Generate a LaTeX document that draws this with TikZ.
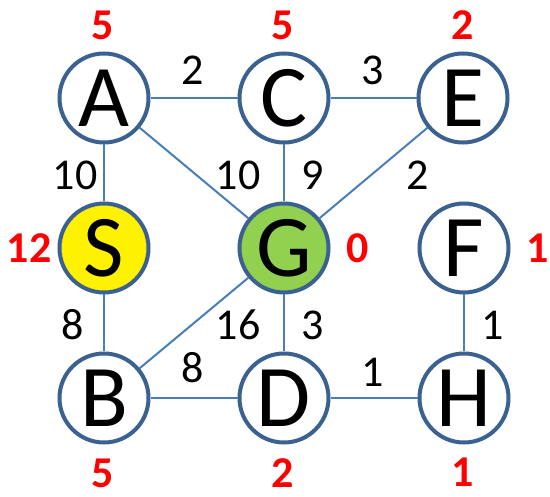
\documentclass[tikz,border=0pt]{standalone}
\usepackage{fontspec}
\setmainfont{Carlito}
\definecolor{ringblue}{HTML}{3B6190}
\definecolor{edgeblue}{HTML}{4A7EBB}
\definecolor{goalgreen}{HTML}{92D050}
\definecolor{hred}{HTML}{FF0000}
\tikzset{
  vert/.style={circle, draw=ringblue, line width=4pt, fill=white, minimum size=89pt, inner sep=0pt,
    font=\fontsize{88}{88}\selectfont},
  wlab/.style={inner sep=0pt, font=\fontsize{44}{44}\selectfont},
  hlab/.style={inner sep=0pt, text=hred, font=\fontsize{44}{44}\selectfont\bfseries},
  edge/.style={draw=edgeblue, line width=2pt}
}
\begin{document}
\begin{tikzpicture}[x=1pt,y=-1pt]
\useasboundingbox (0,0) rectangle (550,497);
% vertices
\node[vert] (A) at (104,98) {A};
\node[vert] (C) at (284,98) {C};
\node[vert] (E) at (463,98) {E};
\node[vert, fill=yellow] (S) at (104,248) {S};
\node[vert, fill=goalgreen] (G) at (284,248) {G};
\node[vert] (F) at (464,248) {F};
\node[vert] (B) at (104,398) {B};
\node[vert] (D) at (284,398) {D};
\node[vert] (H) at (464,398) {H};
% edges
\draw[edge] (A) -- (C);
\draw[edge] (C) -- (E);
\draw[edge] (A) -- (S);
\draw[edge] (A) -- (G);
\draw[edge] (C) -- (G);
\draw[edge] (E) -- (G);
\draw[edge] (S) -- (B);
\draw[edge] (B) -- (G);
\draw[edge] (G) -- (D);
\draw[edge] (B) -- (D);
\draw[edge] (D) -- (H);
\draw[edge] (F) -- (H);
% weights
\node[wlab] (wac) at (193,70) {2};
\node[wlab] (wce) at (373,70) {3};
\node[wlab] (was) at (75,175) {10};
\node[wlab] (wag) at (238,175) {10};
\node[wlab] (wcg) at (313,175) {9};
\node[wlab] (weg) at (418,175) {2};
\node[wlab] (wsb) at (73,325) {8};
\node[wlab] (wbg) at (238,325) {16};
\node[wlab] (wgd) at (313,325) {3};
\node[wlab] (wfh) at (493,325) {1};
\node[wlab] (wbd) at (193,368) {8};
\node[wlab] (wdh) at (373,372) {1};
% heuristics
\node[hlab] (hA) at (103,25) {5};
\node[hlab] (hC) at (283,25) {5};
\node[hlab] (hE) at (463,25) {2};
\node[hlab] (hS) at (29,248) {12};
\node[hlab] (hG) at (358,248) {0};
\node[hlab] (hF) at (538,248) {1};
\node[hlab] (hB) at (103,473) {5};
\node[hlab] (hD) at (283,473) {2};
\node[hlab] (hH) at (463,472) {1};
\end{tikzpicture}
\end{document}
